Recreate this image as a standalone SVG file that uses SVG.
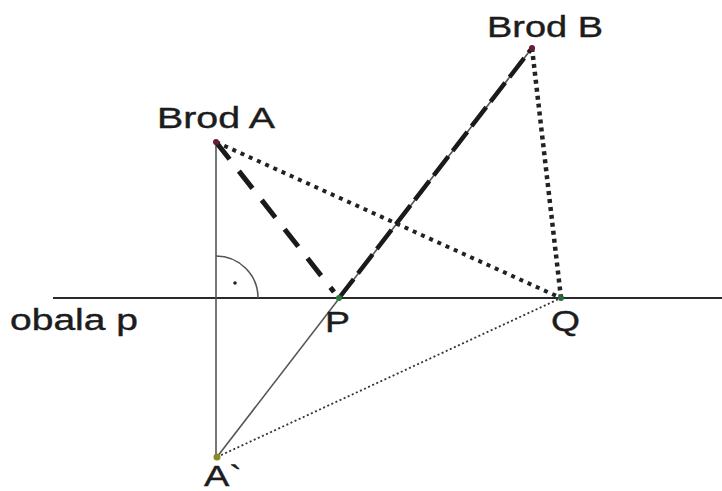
<svg xmlns="http://www.w3.org/2000/svg" width="722" height="491" viewBox="0 0 722 491">
<style>
text{font-family:"Liberation Sans",Arial,sans-serif;font-size:29px;fill:#1c1c1c;stroke:#1c1c1c;stroke-width:0.4}
.thin{stroke:#555;stroke-width:1.6;fill:none}
</style>
<rect width="722" height="491" fill="#fff"/>
<g id="connectors">
<line id="obala" x1="53" y1="298" x2="722" y2="298" stroke="#2a2a2a" stroke-width="2"/>
<line class="thin" x1="216" y1="142" x2="216" y2="457"/>
<line class="thin" x1="217" y1="457" x2="532" y2="48"/>
<path class="thin" d="M216 256 A42 42 0 0 1 258 298"/>
<circle cx="235" cy="283" r="1.8" fill="#222"/>
<line x1="216" y1="142" x2="334" y2="292" stroke="#1a1a1a" stroke-width="5" stroke-dasharray="22 15"/>
<line x1="339" y1="298" x2="532" y2="48" stroke="#1a1a1a" stroke-width="4.5" stroke-dasharray="24 7"/>
<line x1="216" y1="142" x2="561" y2="298" stroke="#222" stroke-width="4" stroke-dasharray="4 5"/>
<line x1="532" y1="48" x2="561" y2="298" stroke="#222" stroke-width="4.5" stroke-dasharray="4 4"/>
<line x1="217" y1="457" x2="561" y2="298" stroke="#333" stroke-width="1.8" stroke-dasharray="2 2.5"/>
</g>
<g id="brodA"><circle cx="216" cy="142" r="3" fill="#6a1a3a"/><text x="157" y="128" textLength="118" lengthAdjust="spacingAndGlyphs">Brod A</text></g>
<g id="brodB"><circle cx="532" cy="48" r="3" fill="#6a1a3a"/><text x="487" y="37" textLength="116" lengthAdjust="spacingAndGlyphs">Brod B</text></g>
<g id="P"><circle cx="339" cy="298" r="3" fill="#2a7a3a"/><text x="325" y="332" textLength="25" lengthAdjust="spacingAndGlyphs">P</text></g>
<g id="Q"><circle cx="561" cy="298" r="3" fill="#2a6a3a"/><text x="551" y="331" textLength="29" lengthAdjust="spacingAndGlyphs">Q</text></g>
<g id="Aprime"><circle cx="217" cy="457" r="3.5" fill="#8a8a20"/><text x="204" y="486" textLength="38" lengthAdjust="spacingAndGlyphs">A`</text></g>
<g id="obalaLabel"><text x="10" y="330" textLength="128" lengthAdjust="spacingAndGlyphs">obala p</text></g>
</svg>
